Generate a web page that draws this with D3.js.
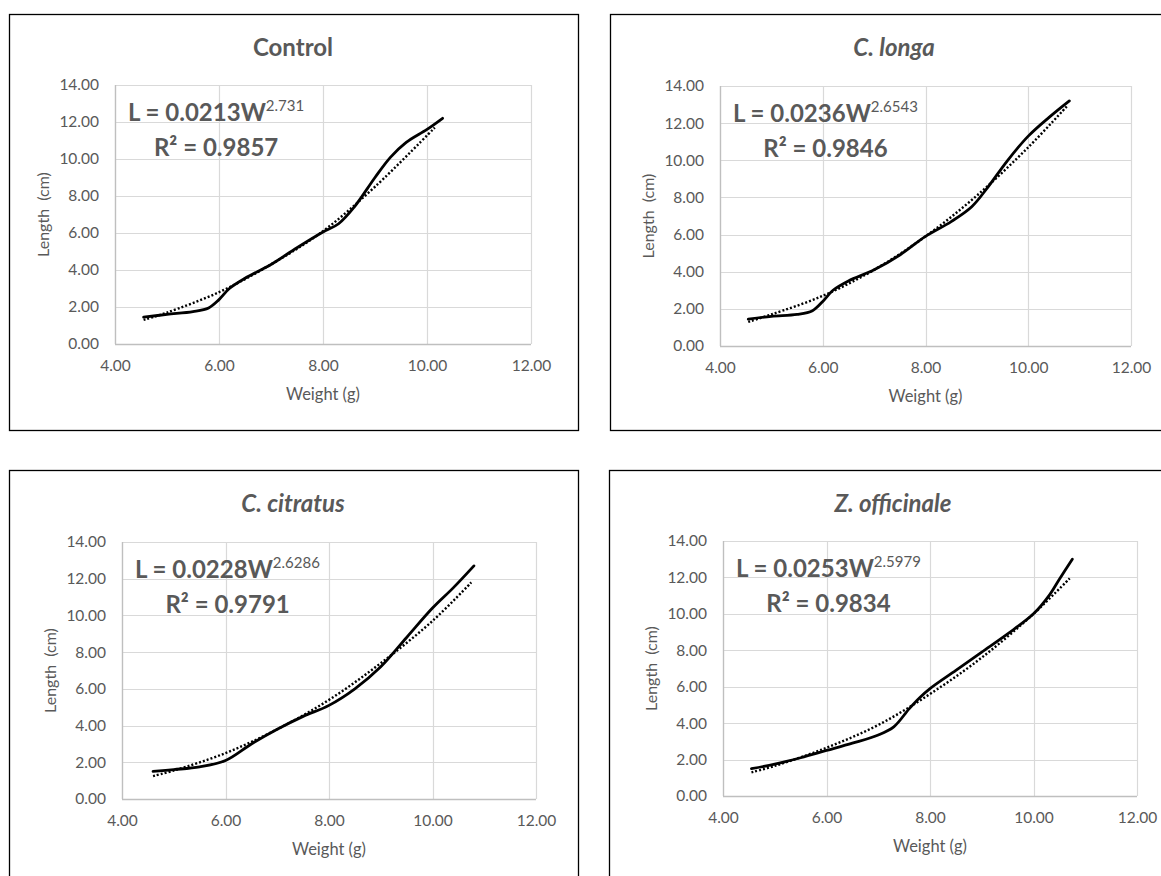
<!DOCTYPE html>
<html>
<head>
<meta charset="utf-8">
<script src="https://cdn.jsdelivr.net/npm/d3@7"></script>
<style>
  html, body { margin: 0; padding: 0; background: #ffffff; }
  svg { display: block; }
  text { font-family: Lato, "Open Sans", sans-serif; fill: #595959; }
</style>
</head>
<body>
<svg id="chart" width="1161" height="876"></svg>
<script>
// ---------------- DATA ----------------
const titles = ["Control", "C. longa", "C. citratus", "Z. officinale"];
const italicTitle = [false, true, true, true];
const coefA = ["0.0213", "0.0236", "0.0228", "0.0253"];
const expB = ["2.731", "2.6543", "2.6286", "2.5979"];
const rSquared = ["0.9857", "0.9846", "0.9791", "0.9834"];

const xTicks = [4, 6, 8, 10, 12];
const yTicks = [0, 2, 4, 6, 8, 10, 12, 14];

// observed (smoothed line) series: weight (g) -> length (cm)
const controlW = [4.55, 5.0, 5.5, 5.8, 6.0, 6.2, 6.5, 7.0, 7.5, 8.0, 8.3, 8.6, 9.0, 9.3, 9.6, 10.0, 10.3];
const controlL = [1.45, 1.6, 1.75, 1.95, 2.4, 3.0, 3.55, 4.3, 5.2, 6.05, 6.5, 7.4, 9.0, 10.1, 10.9, 11.6, 12.2];
const longaW = [4.55, 5.0, 5.5, 5.8, 6.0, 6.2, 6.5, 7.0, 7.5, 8.0, 8.5, 8.9, 9.2, 9.6, 10.0, 10.4, 10.8];
const longaL = [1.45, 1.6, 1.7, 1.9, 2.4, 3.0, 3.5, 4.1, 4.9, 5.9, 6.7, 7.5, 8.5, 10.0, 11.3, 12.3, 13.2];
const citratusW = [4.6, 5.0, 5.5, 6.0, 6.5, 7.0, 7.5, 8.0, 8.5, 9.0, 9.5, 10.0, 10.4, 10.8];
const citratusL = [1.5, 1.6, 1.75, 2.1, 3.0, 3.8, 4.5, 5.1, 6.0, 7.2, 8.8, 10.4, 11.5, 12.7];
const officinaleW = [4.55, 5.0, 5.5, 6.0, 6.5, 7.0, 7.3, 7.6, 7.8, 8.0, 8.5, 9.0, 9.5, 10.0, 10.3, 10.5, 10.75];
const officinaleL = [1.5, 1.75, 2.1, 2.5, 2.9, 3.35, 3.8, 4.8, 5.4, 5.9, 6.9, 7.9, 8.9, 10.0, 11.0, 11.9, 13.0];

// power trendline (dotted)
const controlTrendW = [4.55, 5.0, 6.0, 7.0, 8.0, 9.0, 10.15];
const controlTrendL = [1.3, 1.7, 2.8, 4.3, 6.1, 8.5, 11.7];
const longaTrendW = [4.55, 5.0, 6.0, 7.0, 8.0, 9.0, 10.0, 10.75];
const longaTrendL = [1.3, 1.7, 2.7, 4.1, 5.9, 8.1, 10.7, 12.9];
const citratusTrendW = [4.6, 5.0, 6.0, 7.0, 8.0, 9.0, 10.0, 10.75];
const citratusTrendL = [1.25, 1.55, 2.5, 3.8, 5.4, 7.4, 9.7, 11.8];
const officinaleTrendW = [4.55, 5.0, 6.0, 7.0, 8.0, 9.0, 10.0, 10.7];
const officinaleTrendL = [1.3, 1.65, 2.65, 3.9, 5.6, 7.6, 10.0, 11.95];

const seriesW = [controlW, longaW, citratusW, officinaleW];
const seriesL = [controlL, longaL, citratusL, officinaleL];
const trendW = [controlTrendW, longaTrendW, citratusTrendW, officinaleTrendW];
const trendL = [controlTrendL, longaTrendL, citratusTrendL, officinaleTrendL];

// ---------------- LAYOUT ----------------
const layout = [
  { bx: 9,   by: 14,  bw: 569, bh: 416, px0: 115, px1: 531,  py0: 85,  py1: 344 },
  { bx: 610, by: 14,  bw: 562, bh: 416, px0: 720, px1: 1131, py0: 86,  py1: 346 },
  { bx: 9,   by: 470, bw: 569, bh: 420, px0: 122, px1: 536,  py0: 542, py1: 799 },
  { bx: 609, by: 470, bw: 563, bh: 420, px0: 723, px1: 1137, py0: 541, py1: 796 }
];

const svg = d3.select("#chart");

titles.forEach((title, i) => {
  const L = layout[i];
  const g = svg.append("g");

  // chart border
  g.append("rect")
    .attr("x", L.bx + 0.5).attr("y", L.by + 0.5)
    .attr("width", L.bw).attr("height", L.bh)
    .attr("fill", "#ffffff").attr("stroke", "#000000").attr("stroke-width", 1.3);

  const x = d3.scaleLinear().domain([4, 12]).range([L.px0, L.px1]);
  const y = d3.scaleLinear().domain([0, 14]).range([L.py1, L.py0]);

  // gridlines
  g.append("g").selectAll("line").data(yTicks).join("line")
    .attr("x1", L.px0).attr("x2", L.px1)
    .attr("y1", d => Math.round(y(d)) + 0.5).attr("y2", d => Math.round(y(d)) + 0.5)
    .attr("stroke", "#d9d9d9").attr("stroke-width", 1.2);
  g.append("g").selectAll("line").data(xTicks).join("line")
    .attr("y1", L.py0).attr("y2", L.py1)
    .attr("x1", d => Math.round(x(d)) + 0.5).attr("x2", d => Math.round(x(d)) + 0.5)
    .attr("stroke", "#d9d9d9").attr("stroke-width", 1.2);
  g.append("line")
    .attr("x1", L.px0).attr("x2", L.px1)
    .attr("y1", Math.round(y(0)) + 0.5).attr("y2", Math.round(y(0)) + 0.5)
    .attr("stroke", "#bfbfbf").attr("stroke-width", 1.3);
  g.append("line")
    .attr("x1", Math.round(x(4)) + 0.5).attr("x2", Math.round(x(4)) + 0.5)
    .attr("y1", L.py0).attr("y2", L.py1)
    .attr("stroke", "#bfbfbf").attr("stroke-width", 1.3);

  // axes (labels only)
  const ax = g.append("g").attr("transform", `translate(0,${L.py1})`)
    .call(d3.axisBottom(x).tickValues(xTicks).tickSize(0).tickPadding(16).tickFormat(d3.format(".2f")));
  ax.select(".domain").remove();
  ax.selectAll("text").style("font-family", "Lato, sans-serif").style("font-size", "15.5px").attr("fill", "#595959");

  const ay = g.append("g").attr("transform", `translate(${L.px0},0)`)
    .call(d3.axisLeft(y).tickValues(yTicks).tickSize(0).tickPadding(16).tickFormat(d3.format(".2f")));
  ay.select(".domain").remove();
  ay.selectAll("text").style("font-family", "Lato, sans-serif").style("font-size", "15.5px").attr("fill", "#595959");

  // axis titles
  g.append("text")
    .attr("x", (L.px0 + L.px1) / 2).attr("y", L.py1 + 56)
    .attr("text-anchor", "middle").style("font-size", "16.5px")
    .text("Weight (g)");
  g.append("text")
    .attr("transform", `translate(${L.px0 - 66},${(L.py0 + L.py1) / 2}) rotate(-90)`)
    .attr("text-anchor", "middle").style("font-size", "16px").style("white-space", "pre")
    .text("Length  (cm)");

  // chart title
  g.append("text")
    .attr("x", L.bx + 284).attr("y", L.by + 42)
    .attr("text-anchor", "middle")
    .style("font-size", "24px").style("font-weight", "bold")
    .style("font-style", italicTitle[i] ? "italic" : "normal")
    .text(title);

  // trendline (dotted)
  const trendPts = trendW[i].map((w, k) => [w, trendL[i][k]]);
  g.append("path")
    .datum(trendPts)
    .attr("fill", "none").attr("stroke", "#000").attr("stroke-width", 2.4)
    .attr("stroke-dasharray", "2,2")
    .attr("d", d3.line().x(d => x(d[0])).y(d => y(d[1])).curve(d3.curveCatmullRom.alpha(0.5)));

  // observed smoothed line
  const pts = seriesW[i].map((w, k) => [w, seriesL[i][k]]);
  g.append("path")
    .datum(pts)
    .attr("fill", "none").attr("stroke", "#000").attr("stroke-width", 2.8)
    .attr("stroke-linejoin", "round").attr("stroke-linecap", "round")
    .attr("d", d3.line().x(d => x(d[0])).y(d => y(d[1])).curve(d3.curveCatmullRom.alpha(0.5)));

  // equation
  const eq = g.append("text")
    .attr("x", L.px0 + 13).attr("y", L.py0 + 36)
    .style("font-size", "24px").style("font-weight", "bold");
  eq.append("tspan").text(`L = ${coefA[i]}W`);
  eq.append("tspan").attr("dy", -10).style("font-size", "15px").style("font-weight", "normal").text(expB[i]);
  const bb = eq.node().getBBox();
  const r2 = g.append("text")
    .attr("x", bb.x + bb.width / 2).attr("y", L.py0 + 71)
    .attr("text-anchor", "middle")
    .style("font-size", "24px").style("font-weight", "bold");
  r2.append("tspan").text("R² = " + rSquared[i]);
});
</script>
</body>
</html>
